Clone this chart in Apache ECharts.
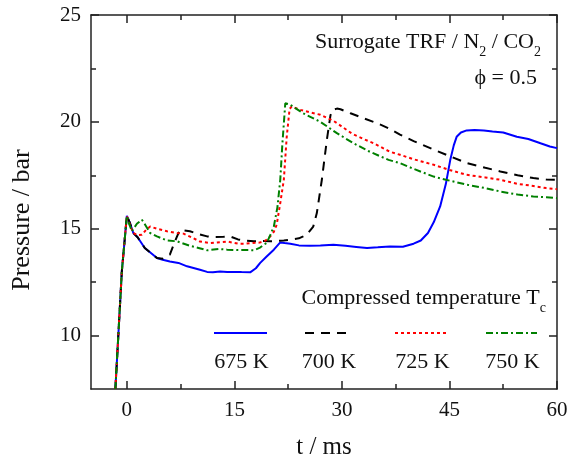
<!DOCTYPE html>
<html>
<head>
<meta charset="utf-8">
<script src="https://cdn.jsdelivr.net/npm/echarts@6/dist/echarts.min.js"></script>
<style>
html,body{margin:0;padding:0;background:#fff;}
#chart{width:570px;height:461px;}
</style>
</head>
<body>
<div id="chart"></div>
<script>
// ---- data ----
const t675 = [-1.6, -0.7, 0, 0.4, 0.9, 1.5, 2.5, 3.4, 4.2, 5.0, 6.0, 7.2, 8.4, 9.3, 10.2, 11.2, 12.0, 13.0, 14.0, 15.0, 16.0, 17.2, 18.0, 18.6, 19.5, 20.5, 21.4, 22.0, 22.8, 24.0, 25.5, 27.0, 28.8, 30.5, 32.0, 33.5, 35.0, 36.7, 38.5, 40.0, 41.0, 42.0, 42.8, 43.7, 44.5, 45.1, 45.6, 46.0, 46.6, 47.4, 48.5, 49.8, 51.0, 52.5, 54.4, 56.0, 57.7, 59.0, 60];
const p675 = [7.5, 13.0, 15.6, 15.3, 14.8, 14.6, 14.1, 13.85, 13.63, 13.55, 13.47, 13.4, 13.24, 13.16, 13.08, 12.98, 12.96, 13.0, 12.97, 12.98, 12.97, 12.96, 13.15, 13.4, 13.7, 14.02, 14.36, 14.33, 14.3, 14.22, 14.2, 14.22, 14.25, 14.2, 14.15, 14.1, 14.13, 14.17, 14.16, 14.3, 14.45, 14.8, 15.3, 16.04, 17.1, 18.2, 18.9, 19.3, 19.5, 19.6, 19.62, 19.6, 19.55, 19.5, 19.3, 19.2, 19.0, 18.85, 18.77];

const t700 = [-1.6, -0.7, 0, 0.4, 0.9, 1.5, 2.5, 3.4, 4.2, 5.0, 6.0, 6.7, 7.4, 8.8, 10.0, 11.2, 12.1, 13.5, 14.4, 15.5, 16.5, 17.7, 19.0, 20.0, 21.0, 21.9, 23.0, 24.0, 24.6, 25.1, 26.0, 26.5, 27.2, 27.9, 28.4, 28.7, 29.3, 29.8, 31.2, 33.0, 34.9, 36.5, 38.1, 40.0, 42.8, 45.0, 47.4, 50.0, 52.1, 54.5, 56.7, 58.5, 60];
const p700 = [7.5, 13.0, 15.6, 15.3, 14.8, 14.6, 14.1, 13.85, 13.63, 13.6, 13.79, 14.4, 14.95, 14.88, 14.75, 14.64, 14.61, 14.62, 14.64, 14.5, 14.45, 14.41, 14.42, 14.41, 14.43, 14.45, 14.5, 14.55, 14.64, 14.72, 15.1, 15.73, 17.29, 19.16, 20.3, 20.56, 20.62, 20.59, 20.4, 20.17, 19.94, 19.7, 19.4, 19.1, 18.7, 18.4, 18.07, 17.85, 17.68, 17.5, 17.37, 17.3, 17.29];

const t725 = [-1.6, -0.7, 0, 0.4, 0.9, 1.5, 2.1, 2.7, 3.25, 4.4, 5.6, 7.0, 7.9, 9.0, 10.2, 11.6, 12.6, 14.0, 15.5, 16.5, 17.5, 18.5, 19.1, 19.6, 20.0, 20.5, 20.9, 21.4, 21.9, 22.3, 22.7, 23.0, 24.2, 25.5, 27.0, 28.8, 29.3, 31.4, 33.0, 34.4, 36.7, 38.1, 40.0, 42.8, 45.0, 47.4, 50.0, 52.1, 54.5, 56.7, 58.5, 60];
const p725 = [7.5, 13.0, 15.6, 15.2, 14.8, 14.7, 14.72, 14.95, 15.1, 14.98, 14.88, 14.8, 14.77, 14.6, 14.4, 14.33, 14.36, 14.4, 14.3, 14.3, 14.33, 14.35, 14.41, 14.5, 14.64, 14.85, 15.19, 16.2, 17.3, 19.3, 20.6, 20.72, 20.56, 20.45, 20.33, 20.05, 19.94, 19.45, 19.2, 19.0, 18.6, 18.46, 18.25, 17.99, 17.75, 17.52, 17.4, 17.29, 17.1, 17.0, 16.9, 16.85];

const t750 = [-1.6, -0.7, 0, 0.35, 0.7, 1.4, 2.1, 2.55, 3.25, 4.2, 5.6, 7.0, 8.8, 10.0, 11.2, 12.8, 14.0, 15.5, 17.0, 17.7, 18.5, 19.1, 19.5, 20.0, 20.5, 21.0, 21.4, 21.7, 22.1, 22.8, 24.6, 27.0, 29.3, 31.6, 33.9, 36.5, 38.1, 40.0, 42.8, 45.0, 47.4, 50.0, 52.1, 54.5, 56.7, 58.5, 60];
const p750 = [7.5, 13.0, 15.6, 15.2, 14.88, 15.23, 15.42, 15.19, 14.8, 14.64, 14.45, 14.41, 14.2, 14.1, 13.99, 14.05, 14.02, 14.0, 14.0, 13.99, 14.1, 14.25, 14.33, 14.7, 15.1, 16.0, 17.29, 19.0, 20.87, 20.8, 20.4, 20.0, 19.47, 19.0, 18.6, 18.22, 18.07, 17.8, 17.44, 17.25, 17.06, 16.9, 16.74, 16.6, 16.51, 16.47, 16.43];

const seriesNames = ['675 K', '700 K', '725 K', '750 K'];
const xMajor = [0, 15, 30, 45, 60];
const xMinor = [7.5, 22.5, 37.5, 52.5];
const yMajor = [10, 15, 20, 25];
const yMinor = [12.5, 17.5, 22.5];

// ---- chart ----
const FONT = "'Liberation Serif', 'DejaVu Serif', serif";
const AX = '#222';
const zip = (a, b) => a.map((v, i) => [v, b[i]]);

function axis(kind, pos, ticks, labels, len, showLine, extra) {
  const o = {
    type: 'value', position: pos,
    min: kind === 'x' ? -5 : 7.5,
    max: kind === 'x' ? 60 : 25,
    splitLine: { show: false },
    axisLine: { show: showLine, onZero: false, lineStyle: { color: AX, width: 1.5 } },
    axisTick: { show: true, inside: true, length: len, customValues: ticks, lineStyle: { color: AX, width: 1.5 } },
    axisLabel: labels ? { show: true, customValues: labels, color: '#111', fontFamily: FONT, fontSize: 21, margin: kind === 'x' ? 11 : 10 } : { show: false },
    minorTick: { show: false }
  };
  return Object.assign(o, extra || {});
}

const chart = echarts.init(document.getElementById('chart'), null, { renderer: 'canvas' });

const styles = [
  { color: '#0000ff', type: 'solid' },
  { color: '#000000', type: [9, 7] },
  { color: '#ff0000', type: [3, 3] },
  { color: '#008000', type: [7, 3, 2, 3] }
];
const tData = [t675, t700, t725, t750];
const pData = [p675, p700, p725, p750];

const legendX = [[214, 267], [305, 351], [395, 448], [486, 537]];
const graphics = [];
seriesNames.forEach((n, i) => {
  graphics.push({
    type: 'line', silent: true,
    shape: { x1: legendX[i][0], y1: 333, x2: legendX[i][1], y2: 333 },
    style: { stroke: styles[i].color, lineWidth: 2, lineDash: styles[i].type === 'solid' ? null : styles[i].type }
  });
  graphics.push({
    type: 'text', silent: true,
    style: { text: n, x: (legendX[i][0] + legendX[i][1]) / 2 + 1, y: 362, align: 'center', verticalAlign: 'middle', fontFamily: FONT, fontSize: 22, fill: '#111' }
  });
});
const richMain = { fontFamily: FONT, fontSize: 22, lineHeight: 34, verticalAlign: 'middle', fill: '#111', color: '#111' };
const richSub = { fontFamily: FONT, fontSize: 14, lineHeight: 14, verticalAlign: 'bottom', fill: '#111', color: '#111' };
graphics.push({
  type: 'text', silent: true,
  style: { text: '{m|Surrogate TRF / N}{s|2}{m| / CO}{s|2}', x: 541, y: 42, align: 'right', verticalAlign: 'middle', rich: { m: richMain, s: richSub } }
});
graphics.push({
  type: 'text', silent: true,
  style: { text: 'ϕ = 0.5', x: 537, y: 78, align: 'right', verticalAlign: 'middle', fontFamily: FONT, fontSize: 22, fill: '#111' }
});
graphics.push({
  type: 'text', silent: true,
  style: { text: '{m|Compressed temperature T}{s|c}', x: 546, y: 298, align: 'right', verticalAlign: 'middle', rich: { m: richMain, s: richSub } }
});
graphics.push({
  type: 'text', silent: true, x: 22, y: 220, rotation: Math.PI / 2,
  style: { text: 'Pressure / bar', x: 0, y: 0, align: 'center', verticalAlign: 'middle', fontFamily: FONT, fontSize: 26, fill: '#111' }
});

chart.setOption({
  animation: false,
  backgroundColor: '#fff',
  grid: { left: 91, right: 13, top: 15, bottom: 72, outerBoundsMode: 'none', containLabel: false },
  xAxis: [
    axis('x', 'bottom', xMajor, xMajor, 8, true, { name: 't / ms', nameLocation: 'middle', nameGap: 46, nameTextStyle: { fontFamily: FONT, fontSize: 25, color: '#111' } }),
    axis('x', 'bottom', xMinor, null, 5, false),
    axis('x', 'top', xMajor, null, 8, true),
    axis('x', 'top', xMinor, null, 5, false)
  ],
  yAxis: [
    axis('y', 'left', yMajor, yMajor, 8, true),
    axis('y', 'left', yMinor, null, 5, false),
    axis('y', 'right', yMajor, null, 8, true),
    axis('y', 'right', yMinor, null, 5, false)
  ],
  series: seriesNames.map((n, i) => ({
    name: n, type: 'line', xAxisIndex: 0, yAxisIndex: 0,
    data: zip(tData[i], pData[i]),
    symbol: 'none', showSymbol: false, smooth: false, clip: true,
    lineStyle: { color: styles[i].color, width: 2, type: styles[i].type },
    itemStyle: { color: styles[i].color },
    z: 2 + i
  })),
  graphic: graphics
});
</script>
</body>
</html>
